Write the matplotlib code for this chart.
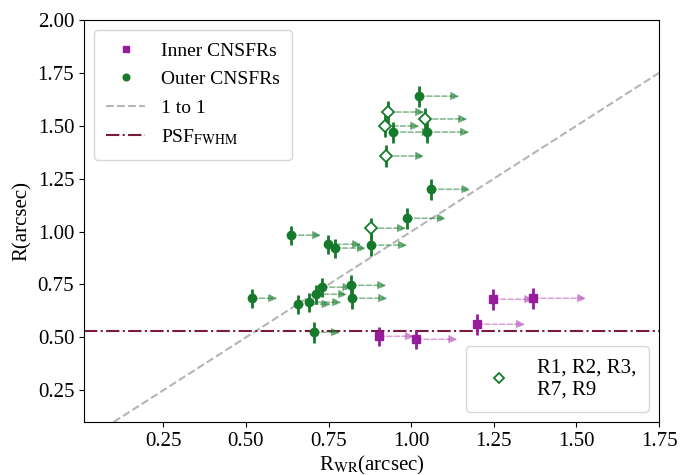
import matplotlib.pyplot as plt

plt.rcParams['font.family'] = ['Liberation Serif', 'DejaVu Serif']
plt.rcParams['mathtext.fontset'] = 'stix'
plt.rcParams['font.size'] = 15

# Outer CNSFRs (filled circles), R and lower limit arrow ends
x_out = [1.025, 0.946, 1.049, 1.061, 0.988, 0.637, 0.749, 0.770, 0.879,
         0.519, 0.731, 0.819, 0.713, 0.692, 0.658, 0.822, 0.707]
y_out = [1.640, 1.470, 1.470, 1.200, 1.063, 0.983, 0.940, 0.922, 0.936,
         0.685, 0.737, 0.746, 0.704, 0.666, 0.657, 0.685, 0.524]
xend_out = [1.146, 1.060, 1.176, 1.180, 1.106, 0.728, 0.849, 0.864, 0.988,
            0.595, 0.820, 0.925, 0.807, 0.789, 0.757, 0.928, 0.785]
err_out = [0.05, 0.05, 0.05, 0.05, 0.05, 0.045, 0.045, 0.045, 0.05,
           0.045, 0.045, 0.05, 0.045, 0.045, 0.045, 0.05, 0.05]

# R1, R2, R3, R7, R9 (open diamonds)
x_dia = [0.931, 1.043, 0.922, 0.925, 0.879]
y_dia = [1.565, 1.532, 1.499, 1.357, 1.016]
xend_dia = [1.040, 1.170, 1.025, 1.040, 0.985]
err_dia = [0.05, 0.05, 0.05, 0.05, 0.05]

# Inner CNSFRs (squares)
x_in = [1.248, 1.370, 1.200, 0.904, 1.016]
y_in = [0.680, 0.685, 0.562, 0.505, 0.491]
xend_in = [1.370, 1.530, 1.345, 1.009, 1.140]
err_in = [0.05, 0.05, 0.05, 0.045, 0.045]

psf = 0.53

green = '#157a2b'
purple = '#951d9c'

fig = plt.figure(figsize=(6.93, 4.75), dpi=100)
ax = fig.add_axes([0.1212, 0.1116, 0.8298, 0.8463])


def arrows(xs, ys, xe, col):
    for x0, y0, x1 in zip(xs, ys, xe):
        ax.annotate('', xy=(x1, y0), xytext=(x0, y0),
                    arrowprops=dict(arrowstyle='-|>', linestyle=(0, (3, 1.5)),
                                    color=col, alpha=0.5, lw=1.2,
                                    mutation_scale=12, shrinkA=0, shrinkB=0),
                    zorder=2)


arrows(x_out, y_out, xend_out, green)
arrows(x_dia, y_dia, xend_dia, green)
arrows(x_in, y_in, xend_in, '#b44fb8')

ax.plot([0.1, 2.0], [0.1, 2.0], ls='--', color='#b5b5b5', lw=1.5, label='1 to 1', zorder=1)
ax.axhline(psf, ls='-.', color='#7a1a3c', lw=1.5, label=r'PSF$_{\rm FWHM}$', zorder=1)

ax.errorbar(x_in, y_in, yerr=err_in, fmt='none', ecolor=purple, elinewidth=2, zorder=3)
ax.errorbar(x_out, y_out, yerr=err_out, fmt='none', ecolor=green, elinewidth=2, zorder=3)
ax.errorbar(x_dia, y_dia, yerr=err_dia, fmt='none', ecolor=green, elinewidth=2, zorder=3)

h_in, = ax.plot(x_in, y_in, 's', color=purple, ms=6, ls='none', label='Inner CNSFRs', zorder=4)
h_out, = ax.plot(x_out, y_out, 'o', color=green, ms=6, ls='none', label='Outer CNSFRs', zorder=4)
h_dia, = ax.plot(x_dia, y_dia, 'D', mfc='white', mec=green, mew=1.3, ms=6, ls='none', zorder=4)

h = ax.get_legend_handles_labels()
order = ['Inner CNSFRs', 'Outer CNSFRs', '1 to 1', r'PSF$_{\rm FWHM}$']
hd = dict(zip(h[1], h[0]))
leg1 = ax.legend([hd[k] for k in order], order, loc='upper left', fontsize=14,
                 markerscale=0.8, borderpad=0.65, labelspacing=0.55)
ax.add_artist(leg1)
ax.legend([h_dia], ['R1, R2, R3,\nR7, R9'], loc='lower right', fontsize=15,
          markerscale=0.8, borderpad=0.6)

ax.set_xlim(0.01, 1.75)
ax.set_ylim(0.1, 2.0)
ax.set_xticks([0.25, 0.50, 0.75, 1.00, 1.25, 1.50, 1.75])
ax.set_yticks([0.25, 0.50, 0.75, 1.00, 1.25, 1.50, 1.75, 2.00])
ax.set_xlabel(r'R$_{\rm WR}$(arcsec)', labelpad=2)
ax.set_ylabel('R(arcsec)')

fig.savefig('out.png', dpi=100)
